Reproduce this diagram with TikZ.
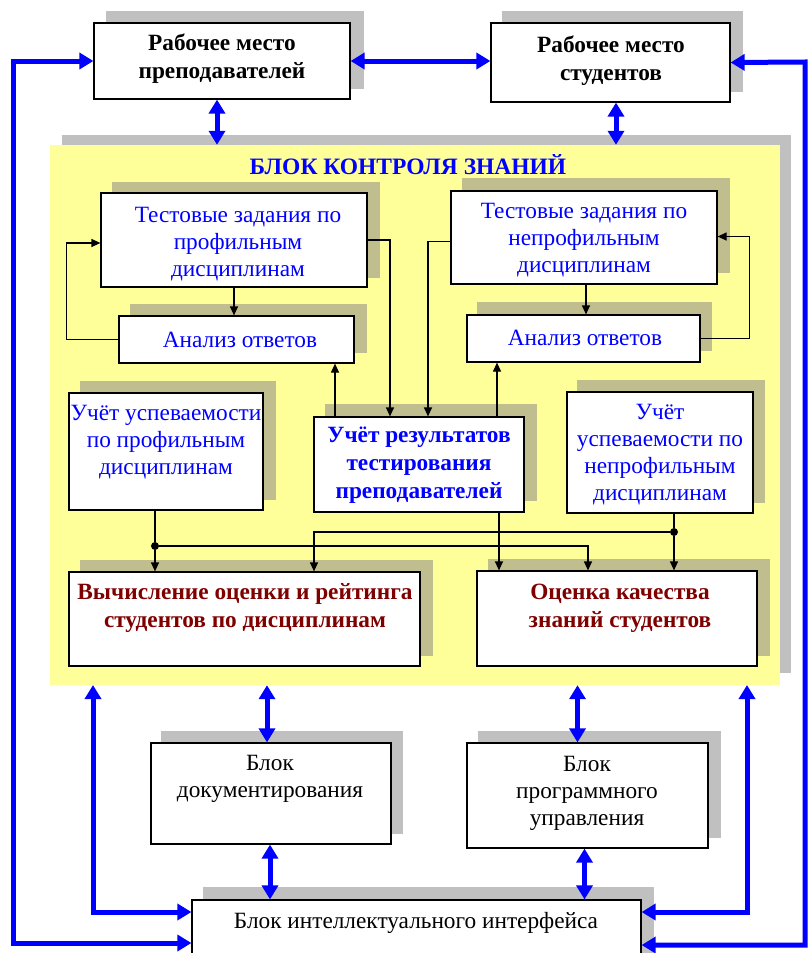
\documentclass[tikz,border=0pt]{standalone}
\usepackage{fontspec}
\setmainfont{Liberation Serif}
\usetikzlibrary{arrows.meta,backgrounds}
\definecolor{yel}{HTML}{FFFF99}
\definecolor{gshad}{HTML}{C0C0C0}
\definecolor{yshad}{HTML}{C0BD8E}
\definecolor{tblue}{HTML}{0000FF}
\definecolor{tred}{HTML}{800000}
\definecolor{ablue}{HTML}{0000FF}
\begin{document}
\begin{tikzpicture}[x=1pt,y=-1pt,
  box/.style={draw=black,line width=1.2pt,fill=white,inner sep=0pt,rectangle},
  lbl/.style={align=center,inner sep=0pt,font=\fontsize{23.3}{27}\selectfont},
  blbl/.style={align=center,inner sep=0pt,font=\fontsize{23.3}{28}\selectfont\bfseries},
  ba/.style={draw=ablue,line width=5pt,{Triangle[length=14pt,width=16pt]}-{Triangle[length=14pt,width=16pt]}},
  ka/.style={draw=black,line width=1.2pt,-{Triangle[length=9pt,width=8pt]}},
  kl/.style={draw=black,line width=1.2pt},
  dotnode/.style={circle,fill=black,inner sep=0pt,minimum size=8pt}
]
\clip (0,0) rectangle (808,953);
\useasboundingbox (0,0) rectangle (808,953);

% yellow block
\begin{pgfonlayer}{background}
  \fill[gshad] (62,135) rectangle (791,673);
  \node[rectangle,fill=yel,inner sep=0pt,minimum width=730pt,minimum height=540pt] (Y) at (415,415) {};
\end{pgfonlayer}

% boxes
\node[box,minimum width=256pt,minimum height=76pt] (tp) at (222,61) {};
\node[box,minimum width=239pt,minimum height=79pt] (st) at (610.5,62.5) {};
\node[box,minimum width=266pt,minimum height=94pt] (A) at (234,240) {};
\node[box,minimum width=235pt,minimum height=47pt] (B) at (236.5,339.5) {};
\node[box,minimum width=210pt,minimum height=95pt] (C) at (419,464.5) {};
\node[box,minimum width=266pt,minimum height=93pt] (D) at (584,237.5) {};
\node[box,minimum width=233pt,minimum height=47pt] (E) at (583.5,338.5) {};
\node[box,minimum width=194pt,minimum height=117pt] (F) at (166,451.5) {};
\node[box,minimum width=186pt,minimum height=121pt] (G) at (660,452.5) {};
\node[box,minimum width=351pt,minimum height=94pt] (H) at (244.5,619) {};
\node[box,minimum width=280pt,minimum height=95pt] (I) at (617,618.5) {};
\node[box,minimum width=240pt,minimum height=101pt] (J) at (271,793.5) {};
\node[box,minimum width=241pt,minimum height=105pt] (K) at (587.5,795.5) {};
\node[box,minimum width=449pt,minimum height=70pt] (L) at (416.5,935) {};

% shadows
\begin{pgfonlayer}{background}
  \foreach \n/\dx/\dy in {tp/13/11, st/12/11, J/11/11, K/12/11, L/12/12}
    \fill[gshad] ([xshift=\dx pt,yshift=\dy pt]\n.south west) rectangle ([xshift=\dx pt,yshift=\dy pt]\n.north east);
  \foreach \n/\dx/\dy in {A/12/10, B/12/11, C/12/12, D/12/12, E/11/12, F/12/11, G/11/11, H/12/11, I/12/11}
    \fill[yshad] ([xshift=\dx pt,yshift=\dy pt]\n.south west) rectangle ([xshift=\dx pt,yshift=\dy pt]\n.north east);
\end{pgfonlayer}

% texts
\node[blbl] (ttp) at (222,59) {Рабочее место\\преподавателей};
\node[blbl] (tst) at (611,61) {Рабочее место\\студентов};
\node[inner sep=0pt,text=tblue,font=\fontsize{23.5}{27}\selectfont\bfseries] (title) at (408,165) {БЛОК КОНТРОЛЯ ЗНАНИЙ};
\node[lbl,text=tblue] (tA) at (238,244) {Тестовые задания по\\профильным\\дисциплинам};
\node[lbl,text=tblue] (tB) at (240,340) {Анализ ответов};
\node[blbl,text=tblue] (tC) at (419,465) {Учёт результатов\\тестирования\\преподавателей};
\node[lbl,text=tblue] (tD) at (584,240) {Тестовые задания по\\непрофильным\\дисциплинам};
\node[lbl,text=tblue] (tE) at (585,338) {Анализ ответов};
\node[lbl,text=tblue] (tF) at (166,442) {Учёт успеваемости\\по профильным\\дисциплинам};
\node[lbl,text=tblue] (tG) at (660,455) {Учёт\\успеваемости по\\непрофильным\\дисциплинам};
\node[blbl,text=tred] (tH) at (245,608) {Вычисление оценки и рейтинга\\студентов по дисциплинам};
\node[blbl,text=tred] (tI) at (620,608) {Оценка качества\\знаний студентов};
\node[lbl] (tJ) at (270,779) {Блок\\документирования};
\node[lbl] (tK) at (587,793) {Блок\\программного\\управления};
\node[lbl] (tL) at (416,923) {Блок интеллектуального интерфейса};

% blue connectors
\draw[ba] ([xshift=-5pt]tp.south) -- ([xshift=-5pt]tp.south |- Y.north);
\draw[ba] ([xshift=5.5pt]st.south) -- ([xshift=5.5pt]st.south |- Y.north);
\draw[ba] (tp.east) -- (st.west |- tp.east);
\coordinate (rtop) at (805,62);
\coordinate (ltop) at (13,61);
\draw[ba] (tp.west) -- (ltop) -- (13,943) -- (L.west |- 0,943);
\draw[ba] (st.east) -- (rtop) -- (805,945) -- (L.east |- 0,945);
\draw[ba] (L.west |- 0,912) -- (93,912) -- (93,685);
\draw[ba] (L.east |- 0,912) -- (747,912) -- (747,685);
\draw[ba] ([xshift=-4pt]J.north |- Y.south) -- ([xshift=-4pt]J.north);
\draw[ba] ([xshift=-1pt]J.south) -- ([xshift=-1pt]J.south |- L.north);
\draw[ba] ([xshift=-10pt]K.north |- Y.south) -- ([xshift=-10pt]K.north);
\draw[ba] ([xshift=-3pt]K.south) -- ([xshift=-3pt]K.south |- L.north);

% black connectors
\draw[ka] (A.south) -- (A.south |- B.north);
\draw[ka] (B.west) -- ++(-52,0) |- ([yshift=-3pt]A.west);
\draw[ka] (A.east) -| ([xshift=-29pt]C.north);
\draw[ka] ([yshift=-4pt]D.west) -| ([xshift=9pt]C.north);
\draw[ka] ([xshift=-84pt]C.north) -- ([xshift=-84pt]C.north |- B.south);
\draw[ka] ([xshift=78pt]C.north) -- ([xshift=78pt]C.north |- E.south);
\draw[ka] ([xshift=2pt]D.south) -- ([xshift=2pt]D.south |- E.north);
\draw[ka] (E.east) -- ++(49,0) |- ([yshift=1pt]D.east);

\node[dotnode] (d1) at (155,546) {};
\node[dotnode] (d2) at (674,532) {};
\draw[kl] ([xshift=-11pt]F.south) -- (d1);
\draw[ka] (d1) -- (d1 |- H.north);
\draw[ka] (d1) -| ([xshift=-29pt]I.north);
\draw[kl] ([xshift=14pt]G.south) -- (d2);
\draw[ka] (d2) -- (d2 |- I.north);
\draw[ka] (d2) -| ([xshift=69.5pt]H.north);
\draw[ka] ([xshift=80pt]C.south) -- ([xshift=80pt]C.south |- I.north);
\end{tikzpicture}
\end{document}
